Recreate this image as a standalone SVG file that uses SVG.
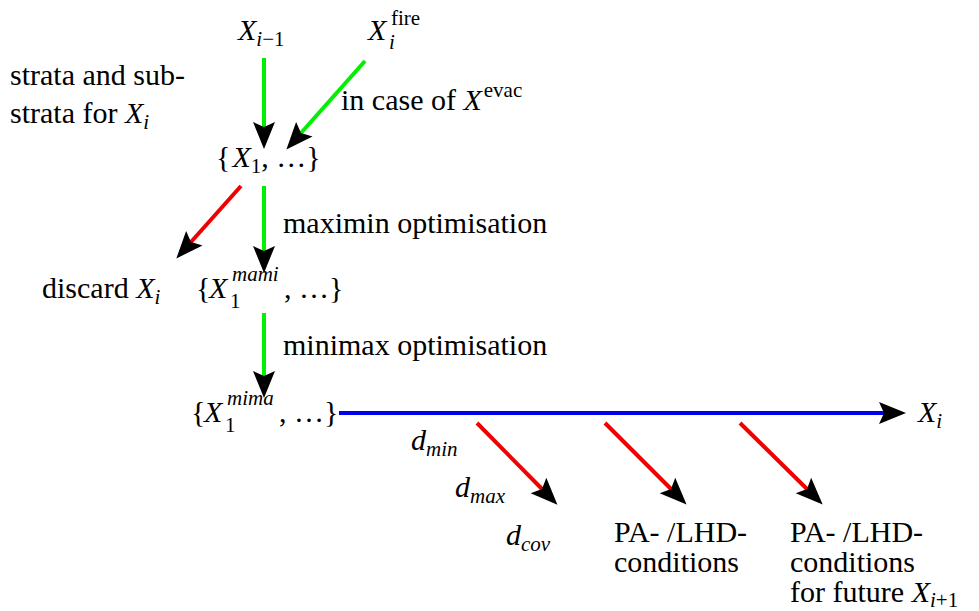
<svg xmlns="http://www.w3.org/2000/svg" width="979" height="611" viewBox="0 0 979 611">
<style>
text{font-family:"Liberation Serif","Times New Roman",serif;font-size:30px;fill:#000}
.it{font-style:italic}
.s{font-size:21px}
.g{stroke:#00f000;stroke-width:4;fill:none}
.r{stroke:#f00000;stroke-width:4;fill:none}
.b{stroke:#0000f0;stroke-width:4;fill:none}
</style>
<defs>
<marker id="ah" markerUnits="userSpaceOnUse" orient="auto" refX="0" refY="0" markerWidth="1" markerHeight="1" overflow="visible">
<path d="M22,0 L-5,-11 L0,0 L-5,11 Z" fill="#000"/>
</marker>
</defs>
<rect width="979" height="611" fill="#fff"/>
<g id="connectors">
<line class="g" x1="264" y1="58" x2="264" y2="127" marker-end="url(#ah)"/>
<line class="g" x1="365" y1="61" x2="301" y2="133" marker-end="url(#ah)"/>
<line class="r" x1="241" y1="186" x2="191" y2="242" marker-end="url(#ah)"/>
<line class="g" x1="264" y1="186" x2="264" y2="251" marker-end="url(#ah)"/>
<line class="g" x1="264" y1="313" x2="264" y2="376" marker-end="url(#ah)"/>
<line class="b" x1="339" y1="413" x2="884" y2="413" marker-end="url(#ah)"/>
<line class="r" x1="477" y1="423" x2="542" y2="489" marker-end="url(#ah)"/>
<line class="r" x1="605" y1="423" x2="671" y2="489" marker-end="url(#ah)"/>
<line class="r" x1="740" y1="423" x2="807" y2="489" marker-end="url(#ah)"/>
</g>
<g id="n_xim1"><text x="238" y="40"><tspan class="it">X</tspan><tspan class="s" dy="6"><tspan class="it">i</tspan>−1</tspan></text></g>
<g id="n_xfire"><text x="368" y="40" class="it">X</text><text x="391" y="25" class="s">fire</text><text x="389" y="49" class="s it">i</text></g>
<g id="n_strata"><text x="10" y="85">strata and sub-</text><text x="10" y="123">strata for <tspan class="it">X</tspan><tspan class="s it" dy="6">i</tspan></text></g>
<g id="n_case"><text x="341" y="110">in case of <tspan class="it">X</tspan><tspan class="s" dx="2" dy="-13">evac</tspan></text></g>
<g id="n_x1"><text x="216" y="167">{<tspan class="it" dx="2">X</tspan><tspan class="s" dy="6">1</tspan><tspan dy="-6">, …}</tspan></text></g>
<g id="n_maximin"><text x="283" y="233">maximin optimisation</text></g>
<g id="n_discard"><text x="42" y="298">discard <tspan class="it">X</tspan><tspan class="s it" dy="6">i</tspan></text></g>
<g id="n_mami"><text x="196" y="298">{</text><text x="209" y="298" class="it">X</text><text x="232" y="281" class="s it">mami</text><text x="230" y="308" class="s">1</text><text x="284" y="298">, …}</text></g>
<g id="n_minimax"><text x="283" y="355">minimax optimisation</text></g>
<g id="n_mima"><text x="191" y="422">{</text><text x="204" y="422" class="it">X</text><text x="227" y="405" class="s it">mima</text><text x="225" y="432" class="s">1</text><text x="279" y="422">, …}</text></g>
<g id="n_xi"><text x="918" y="422"><tspan class="it">X</tspan><tspan class="s it" dy="6">i</tspan></text></g>
<g id="n_dmin"><text x="411" y="450"><tspan class="it">d</tspan><tspan class="s it" dy="6">min</tspan></text></g>
<g id="n_dmax"><text x="455" y="497"><tspan class="it">d</tspan><tspan class="s it" dy="6">max</tspan></text></g>
<g id="n_dcov"><text x="506" y="545"><tspan class="it">d</tspan><tspan class="s it" dy="6">cov</tspan></text></g>
<g id="n_pa1"><text x="614" y="542">PA- /LHD-</text><text x="614" y="572">conditions</text></g>
<g id="n_pa2"><text x="790" y="542">PA- /LHD-</text><text x="790" y="572">conditions</text><text x="790" y="602">for future <tspan class="it">X</tspan><tspan class="s" dy="5"><tspan class="it">i</tspan>+1</tspan></text></g>
</svg>
